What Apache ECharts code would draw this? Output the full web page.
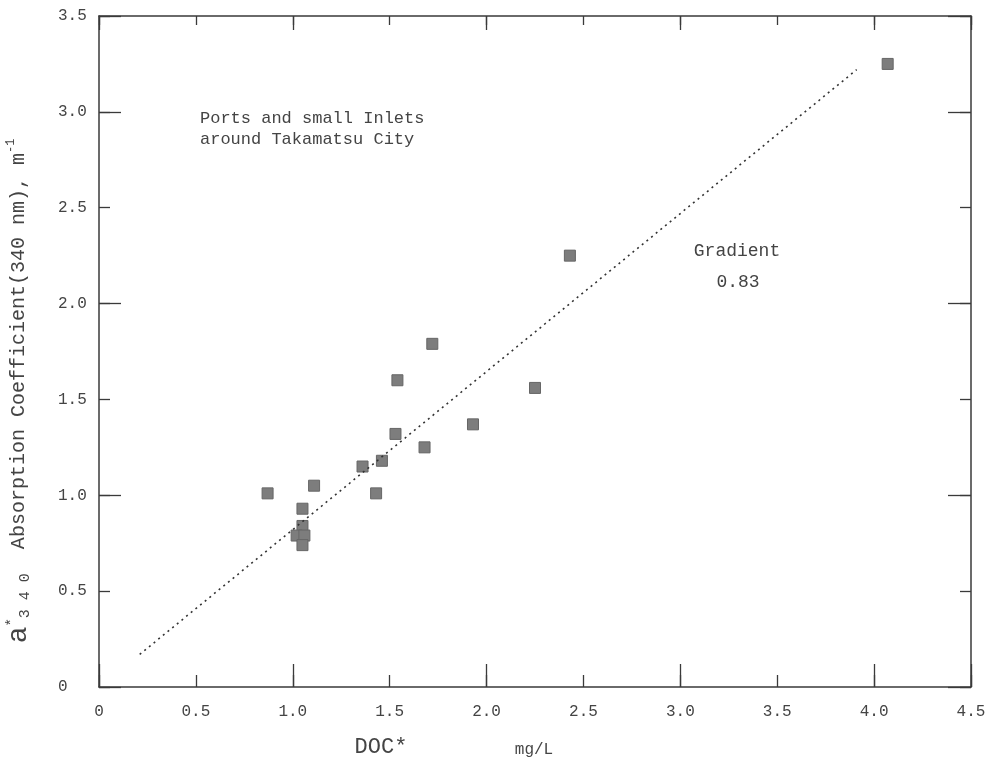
<!DOCTYPE html>
<html><head><meta charset="utf-8">
<script src="https://cdn.jsdelivr.net/npm/echarts@6/dist/echarts.min.js"></script>
<style>html,body{margin:0;padding:0;background:#fff}#c{width:992px;height:762px}</style>
</head><body><div id="c"></div>
<script>
// DOC* (mg/L) and a*340 absorption coefficient (m^-1)
const docValues = [0.87, 1.05, 1.11, 1.05, 1.02, 1.06, 1.05, 1.36, 1.46, 1.43, 1.53, 1.54, 1.68, 1.72, 1.93, 2.25, 2.43, 4.07];
const absValues = [1.01, 0.93, 1.05, 0.84, 0.79, 0.79, 0.74, 1.15, 1.18, 1.01, 1.32, 1.60, 1.25, 1.79, 1.37, 1.56, 2.25, 3.25];
// regression line end points (gradient 0.83)
const fitX = [0.21, 3.91];
const fitY = [0.17, 3.22];
const xTickLabels = ['0', '0.5', '1.0', '1.5', '2.0', '2.5', '3.0', '3.5', '4.0', '4.5'];
const yTickLabels = ['0', '0.5', '1.0', '1.5', '2.0', '2.5', '3.0', '3.5'];
const annotationText = ['Ports and small Inlets', 'around Takamatsu City'];
const gradientText = ['Gradient', '0.83'];

const FONT = '"Liberation Mono", "DejaVu Sans Mono", monospace';
const AX = '#3a3a3a';

const points = docValues.map((v, i) => [v, absValues[i]]);
const fitLine = fitX.map((v, i) => [v, fitY[i]]);

function tick(len) {
  return { show: true, inside: true, length: len, lineStyle: { color: AX, width: 1.3 } };
}
function axisBase(extra) {
  return Object.assign({
    type: 'value', splitLine: { show: false },
    axisLine: { show: false, onZero: false, lineStyle: { color: AX, width: 1.5 } },
    axisLabel: { show: false },
    axisTick: tick(11)
  }, extra);
}
const shownLine = { show: true, onZero: false, lineStyle: { color: AX, width: 1.5 } };

const xAxes = [
  axisBase({ position: 'bottom', min: 0, max: 4.5, interval: 0.5, axisLine: shownLine, axisTick: tick(12),
    axisLabel: { show: true, margin: 17, fontFamily: FONT, fontSize: 16, color: '#444',
      formatter: v => xTickLabels[Math.round(v / 0.5)] } }),
  axisBase({ position: 'bottom', min: 0, max: 4.5, interval: 1, axisTick: tick(23) }),
  axisBase({ position: 'top', min: 0, max: 4.5, interval: 0.5, axisLine: shownLine, axisTick: tick(9) }),
  axisBase({ position: 'top', min: 0, max: 4.5, interval: 1, axisTick: tick(14) })
];
const yAxes = [
  axisBase({ position: 'left', min: 0, max: 3.5, interval: 0.5, axisLine: shownLine, axisTick: tick(11),
    axisLabel: { show: true, margin: 41, align: 'left', fontFamily: FONT, fontSize: 16, color: '#444',
      formatter: v => yTickLabels[Math.round(v / 0.5)] } }),
  axisBase({ position: 'left', min: 0, max: 3.5, interval: 1, axisTick: tick(22) }),
  axisBase({ position: 'right', min: 0, max: 3.5, interval: 0.5, axisLine: shownLine, axisTick: tick(11) }),
  axisBase({ position: 'right', min: 0, max: 3.5, interval: 1, axisTick: tick(23) })
];

const chart = echarts.init(document.getElementById('c'), null, { renderer: 'canvas' });
chart.setOption({
  animation: false,
  backgroundColor: '#fff',
  grid: { left: 99, right: 21, top: 16, bottom: 75 },
  xAxis: xAxes,
  yAxis: yAxes,
  series: [
    { type: 'line', data: fitLine, symbol: 'none', silent: true,
      lineStyle: { type: [2, 4], color: '#333', width: 1.6 } },
    { type: 'scatter', data: points, symbol: 'rect', symbolSize: 11,
      itemStyle: { color: '#7d7d7d', borderColor: '#666', borderWidth: 1, opacity: 1 } }
  ],
  graphic: [
    { type: 'text', x: 200, y: 118, style: { text: annotationText[0], fontFamily: FONT, fontSize: 17, fill: '#444', align: 'left', textAlign: 'left', verticalAlign: 'middle', textVerticalAlign: 'middle' } },
    { type: 'text', x: 200, y: 139, style: { text: annotationText[1], fontFamily: FONT, fontSize: 17, fill: '#444', align: 'left', textAlign: 'left', verticalAlign: 'middle', textVerticalAlign: 'middle' } },
    { type: 'text', x: 737, y: 251, style: { text: gradientText[0], fontFamily: FONT, fontSize: 18, fill: '#444', align: 'center', textAlign: 'center', verticalAlign: 'middle', textVerticalAlign: 'middle' } },
    { type: 'text', x: 738, y: 282, style: { text: gradientText[1], fontFamily: FONT, fontSize: 18, fill: '#444', align: 'center', textAlign: 'center', verticalAlign: 'middle', textVerticalAlign: 'middle' } },
    { type: 'text', x: 381, y: 747, style: { text: 'DOC*', fontFamily: FONT, fontSize: 22, fill: '#444', align: 'center', textAlign: 'center', verticalAlign: 'middle', textVerticalAlign: 'middle' } },
    { type: 'text', x: 534, y: 750, style: { text: 'mg/L', fontFamily: FONT, fontSize: 16, fill: '#444', align: 'center', textAlign: 'center', verticalAlign: 'middle', textVerticalAlign: 'middle' } },
    { type: 'text', x: 19, y: 391, rotation: Math.PI / 2,
      style: {
        text: '{a|a}{s|*}{sub|3 4 0}  Absorption Coefficient(340 nm), m{sup|-1}',
        fontFamily: FONT, fontSize: 20, fill: '#444',
        align: 'center', textAlign: 'center', verticalAlign: 'middle', textVerticalAlign: 'middle',
        rich: {
          a: { fontFamily: FONT, fontSize: 28, fill: '#444', color: '#444', verticalAlign: 'bottom' },
          s: { fontFamily: FONT, fontSize: 14, fill: '#444', color: '#444', verticalAlign: 'top' },
          sub: { fontFamily: FONT, fontSize: 15, fill: '#444', color: '#444', verticalAlign: 'bottom' },
          sup: { fontFamily: FONT, fontSize: 12, fill: '#444', color: '#444', verticalAlign: 'top' }
        }
      } }
  ]
});
</script>
</body></html>
